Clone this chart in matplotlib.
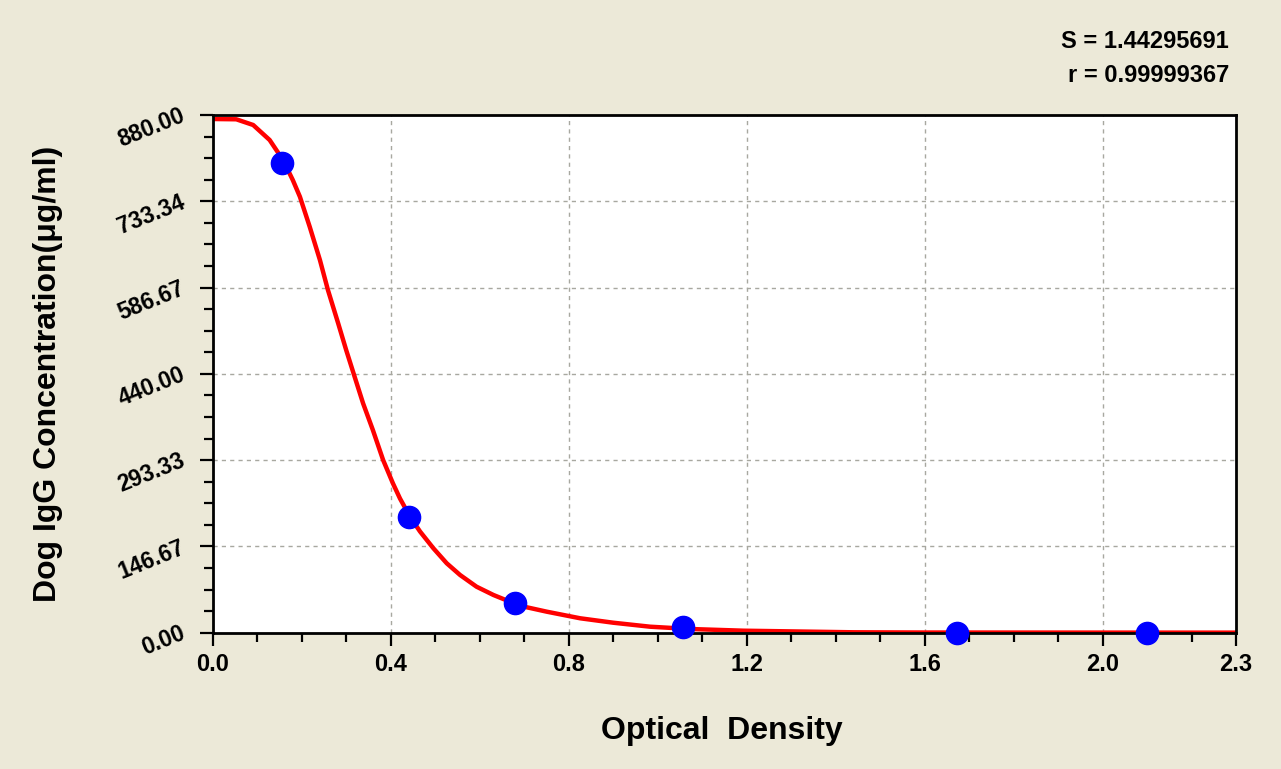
import matplotlib
matplotlib.use("Agg")
import matplotlib.pyplot as plt
from matplotlib.ticker import FixedLocator

# ---- data ----
od_points = [0.156, 0.441, 0.680, 1.057, 1.672, 2.099]
conc_points = [799.0, 197.0, 50.5, 9.7, 0.0, 0.0]

curve_od = [0.0, 0.053, 0.091, 0.128, 0.158, 0.180, 0.196, 0.218, 0.241, 0.259,
            0.282, 0.300, 0.319, 0.338, 0.360, 0.383, 0.405, 0.421, 0.4435, 0.466,
            0.496, 0.526, 0.556, 0.593, 0.631, 0.668, 0.706, 0.751, 0.826, 0.900,
            0.983, 1.073, 1.193, 1.440, 1.600, 2.300]
curve_conc = [873.2, 872.7, 863.0, 837.5, 803.5, 769.5, 741.1, 690.1, 633.5, 582.5,
              525.9, 480.5, 435.1, 389.9, 344.5, 293.6, 254.0, 228.0, 197.2, 172.0,
              143.5, 118.0, 98.1, 78.2, 64.1, 52.7, 43.2, 35.7, 24.5, 17.0,
              10.2, 6.3, 3.4, 0.7, 0.3, 0.1]

x_ticks = [0.0, 0.4, 0.8, 1.2, 1.6, 2.0, 2.3]
x_tick_labels = ["0.0", "0.4", "0.8", "1.2", "1.6", "2.0", "2.3"]
y_ticks = [0.0, 146.67, 293.33, 440.0, 586.67, 733.34, 880.0]
y_tick_labels = ["0.00", "146.67", "293.33", "440.00", "586.67", "733.34", "880.00"]

stat_lines = ["S = 1.44295691", "r = 0.99999367"]
x_label = "Optical  Density"
y_label = "Dog IgG Concentration(\u03bcg/ml)"

# ---- figure ----
plt.rcParams['font.family'] = ['Liberation Sans', 'DejaVu Sans']
bg = '#ECE9D8'
fig = plt.figure(figsize=(12.81, 7.69), dpi=100, facecolor=bg)
ax = fig.add_axes([212.7/1281, 1 - 632.7/769, (1236 - 212.7)/1281, (632.7 - 115)/769])
ax.set_facecolor('white')

ax.set_xlim(0, 2.3)
ax.set_ylim(0, 880)

# grid
for xv in x_ticks[1:-1]:
    ax.axvline(xv, color='#A8A8A0', lw=1.0, ls=(0, (3, 3)), zorder=1)
for yv in y_ticks[1:-1]:
    ax.axhline(yv, color='#A8A8A0', lw=1.0, ls=(0, (3, 3)), zorder=1)

ax.plot(curve_od, curve_conc, color='#FF0000', lw=3.2, zorder=3,
        solid_joinstyle='round', solid_capstyle='butt')
ax.plot(od_points, conc_points, 'o', color='#0000FF', ms=16, mec='#0000FF',
        zorder=5, clip_on=False)

# ticks
ax.xaxis.set_major_locator(FixedLocator(x_ticks))
ax.set_xticklabels(x_tick_labels, fontsize=17, fontweight='bold')
ax.xaxis.set_minor_locator(FixedLocator([i / 10 for i in range(0, 24)]))
ax.yaxis.set_major_locator(FixedLocator(y_ticks))
ax.set_yticklabels(y_tick_labels, fontsize=16.5, fontweight='bold',
                   rotation=22, rotation_mode='anchor', ha='right', va='center')
ax.yaxis.set_minor_locator(FixedLocator([880 / 24 * i for i in range(25)]))

ax.tick_params(axis='both', which='major', length=9.5, width=1.6, color='black',
               direction='out')
ax.tick_params(axis='both', which='minor', length=6.5, width=1.6, color='black',
               direction='out')
ax.tick_params(axis='x', which='major', pad=5)
ax.tick_params(axis='y', which='major', pad=11)
ax.tick_params(top=False, right=False, which='both')

for s in ax.spines.values():
    s.set_linewidth(2.0)
    s.set_color('black')
    s.set_zorder(4)

fig.text(48/1281, 1 - 374/769, y_label, rotation=90, ha='center', va='center',
         fontsize=23, fontweight='bold')
fig.text(722/1281, 1 - 731/769, x_label, ha='center', va='center',
         fontsize=23, fontweight='bold')
fig.text(1229/1281, 1 - 48/769, stat_lines[0], ha='right', va='baseline',
         fontsize=17, fontweight='bold')
fig.text(1229/1281, 1 - 82/769, stat_lines[1], ha='right', va='baseline',
         fontsize=17, fontweight='bold')

fig.savefig('out.png', dpi=100, facecolor=bg)
